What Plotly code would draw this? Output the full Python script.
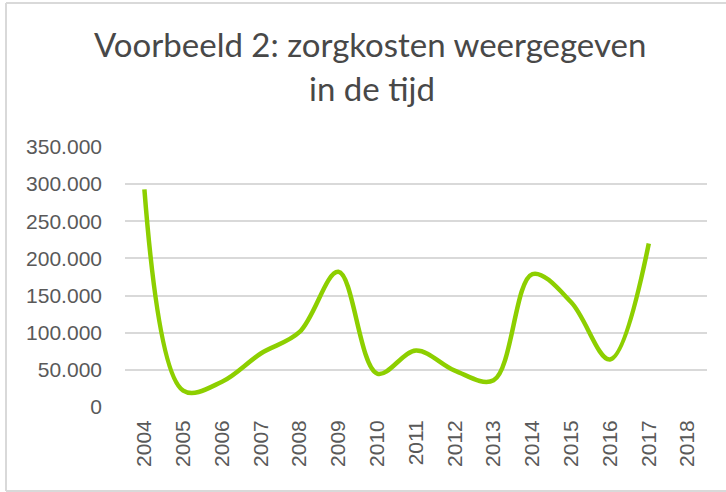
import plotly.graph_objects as go

years = ["2004", "2005", "2006", "2007", "2008", "2009", "2010", "2011",
         "2012", "2013", "2014", "2015", "2016", "2017", "2018"]
kosten = [293000, 22000, 34000, 72000, 101000, 182000, 45000, 76000,
          49000, 36000, 179000, 141000, 64000, 220000, None]
y_ticks = [0, 50000, 100000, 150000, 200000, 250000, 300000, 350000]
y_tick_labels = ["0", "50.000", "100.000", "150.000", "200.000", "250.000", "300.000", "350.000"]
title_line1 = "Voorbeeld 2: zorgkosten weergegeven"
title_line2 = "in de tijd"

W, H = 726, 492
L, R, T, B = 125, 19, 147, 85
pw, ph = W - L - R, H - T - B

def px_x(x):
    return (x - L) / pw

def px_y(y):
    return (H - B - y) / ph

fig = go.Figure()
fig.add_trace(go.Scatter(
    x=years, y=kosten, mode="lines",
    line=dict(color="#8DCF00", width=4.5, shape="spline", smoothing=1.0),
    connectgaps=False, hoverinfo="x+y",
))

grey = "#595959"
border = dict(color="#D9D9D9", width=2)
title_font = dict(family="Lato, Open Sans, sans-serif", size=33, color="#484848")
fig.update_layout(
    width=W, height=H,
    margin=dict(l=L, r=R, t=T, b=B, pad=0),
    paper_bgcolor="white", plot_bgcolor="white",
    showlegend=False,
    font=dict(family="Liberation Sans, Arial, sans-serif", color=grey, size=21),
    xaxis=dict(
        type="category", categoryorder="array", categoryarray=years,
        range=[-0.5, len(years) - 0.5],
        tickangle=-90, showgrid=False, zeroline=False, showline=False,
        ticks="", tickfont=dict(size=21, color=grey), ticklabelstandoff=8,
    ),
    yaxis=dict(
        range=[0, 350000], tickvals=y_ticks, ticktext=y_tick_labels,
        showgrid=True, gridcolor="#D9D9D9", gridwidth=1.5,
        zeroline=False, showline=False, ticks="",
        tickfont=dict(size=21, color=grey), ticklabelstandoff=22,
    ),
    shapes=[
        dict(type="line", xref="paper", yref="paper", x0=px_x(6), x1=px_x(6),
             y0=px_y(491), y1=px_y(3), line=border, layer="below"),
        dict(type="line", xref="paper", yref="paper", x0=px_x(6), x1=px_x(726),
             y0=px_y(3), y1=px_y(3), line=border, layer="below"),
        dict(type="line", xref="paper", yref="paper", x0=px_x(6), x1=px_x(726),
             y0=px_y(491), y1=px_y(491), line=border, layer="below"),
    ],
    annotations=[
        dict(text=title_line1, xref="paper", yref="paper", x=px_x(370), y=px_y(44),
             xanchor="center", yanchor="middle", showarrow=False, font=title_font),
        dict(text=title_line2, xref="paper", yref="paper", x=px_x(372), y=px_y(88),
             xanchor="center", yanchor="middle", showarrow=False, font=title_font),
    ],
)

fig.write_html("out.html", config={"displayModeBar": False},
               post_script="document.body.style.margin='0px';document.body.style.overflow='hidden';")
